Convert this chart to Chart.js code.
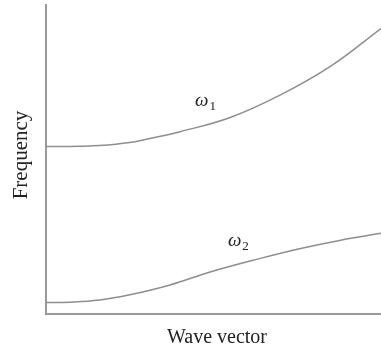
<!DOCTYPE html>
<html><head><meta charset="utf-8">
<script src="https://cdn.jsdelivr.net/npm/chart.js@4/dist/chart.umd.min.js"></script>
<style>html,body{margin:0;padding:0;background:#fff}#wrap{width:381px;height:351px}</style>
</head><body><div id="wrap"><canvas id="c" width="381" height="351"></canvas></div>
<script>
// Wave vector (0-100 of axis), frequency (0-100 of axis)
const omega1X = [0, 10, 16, 25, 31, 40, 55, 70, 85, 100];
const omega1Y = [54.2, 54.3, 54.5, 55.5, 56.8, 59.0, 63.6, 70.9, 80.2, 92.4];
const omega2X = [0, 7, 16, 25, 37, 49, 64, 76, 88, 100];
const omega2Y = [3.7, 3.8, 4.5, 6.2, 9.4, 13.6, 18.0, 21.2, 23.9, 26.1];
const xTitle = "Wave vector";
const yTitle = "Frequency";
const curveLabels = [
  {sym: "ω", sub: "1", x: 44.5, y: 67.3},
  {sym: "ω", sub: "2", x: 54.3, y: 22.0}
];

const toPts = (xs, ys) => xs.map((x, i) => ({x: x, y: ys[i]}));

const textPlugin = {
  id: 'texts',
  afterDraw(chart) {
    const ctx = chart.ctx;
    const xs = chart.scales.x, ys = chart.scales.y;
    ctx.save();
    ctx.fillStyle = '#222';
    ctx.font = '20px "Liberation Serif", serif';
    ctx.textAlign = 'center';
    ctx.textBaseline = 'alphabetic';
    ctx.fillText(xTitle, 217, 343);
    ctx.save();
    ctx.translate(27, 155);
    ctx.rotate(-Math.PI / 2);
    ctx.font = '21px "Liberation Serif", serif';
    ctx.fillText(yTitle, 0, 0);
    ctx.restore();
    curveLabels.forEach(l => {
      const px = xs.getPixelForValue(l.x), py = ys.getPixelForValue(l.y);
      ctx.font = 'italic 19px "Liberation Serif", serif';
      ctx.textAlign = 'left';
      ctx.fillText(l.sym, px, py);
      const w = ctx.measureText(l.sym).width;
      ctx.font = '13px "Liberation Serif", serif';
      ctx.fillText(l.sub, px + w + 1, py + 4);
    });
    ctx.restore();
  }
};

new Chart(document.getElementById('c'), {
  type: 'line',
  data: {
    datasets: [
      {data: toPts(omega1X, omega1Y), borderColor: '#8e8e8e', borderWidth: 1.5, pointRadius: 0, tension: 0.4, fill: false},
      {data: toPts(omega2X, omega2Y), borderColor: '#8e8e8e', borderWidth: 1.5, pointRadius: 0, tension: 0.4, fill: false}
    ]
  },
  options: {
    responsive: false,
    animation: false,
    events: [],
    layout: {padding: {left: 46, right: 0, top: 5, bottom: 37}},
    plugins: {legend: {display: false}, tooltip: {enabled: false}, title: {display: false}},
    scales: {
      x: {type: 'linear', min: 0, max: 100, grid: {display: false, drawTicks: false}, ticks: {display: false}, border: {display: true, color: '#9a9a9a', width: 2}},
      y: {type: 'linear', min: 0, max: 100, grid: {display: false, drawTicks: false}, ticks: {display: false}, border: {display: true, color: '#9a9a9a', width: 2}}
    }
  },
  plugins: [textPlugin]
});
</script></body></html>
